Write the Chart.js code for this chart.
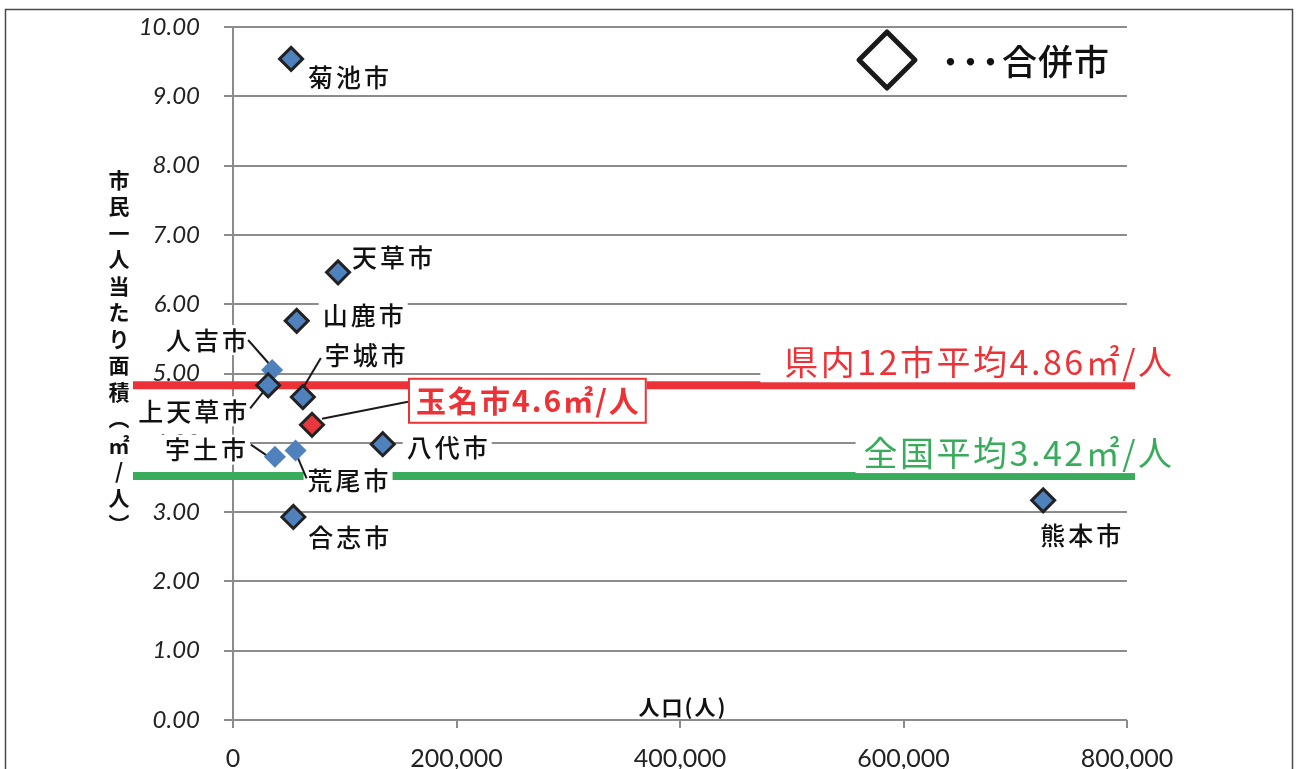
<!DOCTYPE html>
<html><head><meta charset="utf-8">
<script src="https://cdn.jsdelivr.net/npm/chart.js@4.4.1/dist/chart.umd.min.js"></script>
<style>html,body{margin:0;padding:0;background:#fff}#wrap{width:1298px;height:769px;position:relative}</style>
</head><body><div id="wrap"><canvas id="c"></canvas></div>
<script>
// ---- data ----
const cities = ['菊池市','天草市','山鹿市','人吉市','上天草市','宇城市','玉名市','八代市','宇土市','荒尾市','合志市','熊本市'];
const population = [52000,94000,57000,35000,31500,62500,70700,134000,37500,56000,54000,725000];
const areaPerPerson = [9.54,6.46,5.76,5.05,4.83,4.66,4.26,3.98,3.80,3.89,2.93,3.17];
const mergedCity = [true,true,true,false,true,true,true,true,false,false,true,true];
const highlightCity = '玉名市';
const highlightLabel = '玉名市4.6㎡/人';
const xTicks = [0,200000,400000,600000,800000];
const yTicks = [0,1,2,3,4,5,6,7,8,9,10];
const refLevels = [4.83, 3.52];
const refLabels = ['県内12市平均4.86㎡/人','全国平均3.42㎡/人'];
const xTitle = '人口(人)';
const yTitleChars = ['市','民','一','人','当','た','り','面','積','︵','㎡','/','人','︶'];
const legendDots = '･･･';
const legendLabel = '合併市';

// ---- layout / styles (kept separate from data) ----
const refColors = ['#EC3237','#39AC5C'];
const refPadL = [24, 8];
const labelLayout = {
  '菊池市': {dx:17, dy:19, align:'left'},
  '天草市': {dx:14, dy:-15, align:'left'},
  '山鹿市': {dx:26, dy:-5, align:'left'},
  '人吉市': {dx:-25, dy:-30, align:'right', lead:[-24,-30,-2,-5]},
  '上天草市': {dx:-21, dy:26, align:'right', lead:[-18,23,-3,4]},
  '宇城市': {dx:22, dy:-42, align:'left', lead:[18,-39,-1,-7]},
  '八代市': {dx:24, dy:3, align:'left'},
  '宇土市': {dx:-29, dy:-7, align:'right', lead:[-24,-12,-8,-1], padL:18},
  '荒尾市': {dx:12, dy:30, align:'left', lead:[0,2,11,28]},
  '合志市': {dx:15, dy:21, align:'left'},
  '熊本市': {dx:-3, dy:35, align:'left'}
};
const tamanaLayout = {dx:96, dy:-24, lead:[10,-6,96,-23]};
const JP = '"Noto Sans CJK JP","Noto Sans",sans-serif';
const NUM = 'Lato,"Open Sans",sans-serif';

function textW(ctx, text, spacing){ return ctx.measureText(text).width - spacing; }
function drawLabel(ctx, text, x, cy, align, font, color, spacing, bgH, padL){
  ctx.font = font; ctx.letterSpacing = spacing + 'px';
  const w = textW(ctx, text, spacing);
  const left = align === 'right' ? x - w : (align === 'center' ? x - w/2 : x);
  const pl = padL || 4;
  if (bgH) { ctx.fillStyle = '#fff'; ctx.fillRect(left - pl, cy - bgH/2, w + 4 + pl, bgH); }
  ctx.fillStyle = color; ctx.textAlign = 'left'; ctx.textBaseline = 'middle';
  ctx.fillText(text, left, cy);
  return {left, w};
}

const points = cities.map((c,i)=>({x:population[i], y:areaPerPerson[i], name:c, merged:mergedCity[i]}));
const mergedPts = points.filter(p=>p.merged);
const otherPts = points.filter(p=>!p.merged);

const overlay = {
  id:'overlay',
  beforeDatasetsDraw(chart){
    const ctx = chart.ctx, xs = chart.scales.x, ys = chart.scales.y, ca = chart.chartArea;
    ctx.save();
    refLevels.forEach((v,i)=>{
      const y = ys.getPixelForValue(v);
      ctx.strokeStyle = refColors[i]; ctx.lineWidth = 8;
      ctx.beginPath(); ctx.moveTo(ca.left - 100, y); ctx.lineTo(ca.right + 8, y); ctx.stroke();
      drawLabel(ctx, refLabels[i], ca.right + 45, y - 23, 'right', '34px ' + JP, refColors[i], 2.5, 40, refPadL[i]);
    });
    points.forEach(p=>{
      const L = labelLayout[p.name]; if (!L) return;
      const px = xs.getPixelForValue(p.x), py = ys.getPixelForValue(p.y);
      drawLabel(ctx, p.name, px + L.dx, py + L.dy, L.align, '500 25px ' + JP, '#111', 3, 30, L.padL);
    });
    ctx.letterSpacing = '0px';
    ctx.strokeStyle = '#1a1a1a'; ctx.lineWidth = 2;
    points.forEach(p=>{
      const L = p.name === highlightCity ? tamanaLayout : labelLayout[p.name];
      if (!L || !L.lead) return;
      const px = xs.getPixelForValue(p.x), py = ys.getPixelForValue(p.y);
      ctx.beginPath(); ctx.moveTo(px + L.lead[0], py + L.lead[1]); ctx.lineTo(px + L.lead[2], py + L.lead[3]); ctx.stroke();
    });
    const hp = points.find(p=>p.name === highlightCity);
    const hx = xs.getPixelForValue(hp.x) + tamanaLayout.dx, hy = ys.getPixelForValue(hp.y) + tamanaLayout.dy;
    ctx.font = 'bold 30px ' + JP; ctx.letterSpacing = '2px';
    const hw = textW(ctx, highlightLabel, 2);
    ctx.fillStyle = '#fff'; ctx.fillRect(hx, hy - 23, hw + 16, 46);
    ctx.strokeStyle = '#EC3237'; ctx.lineWidth = 2; ctx.strokeRect(hx + 1, hy - 22, hw + 14, 44);
    drawLabel(ctx, highlightLabel, hx + 8, hy, 'left', 'bold 30px ' + JP, '#EC3237', 2, 0);
    ctx.restore();
  },
  afterDraw(chart){
    const ctx = chart.ctx, ca = chart.chartArea;
    ctx.save();
    ctx.strokeStyle = '#4a4a4a'; ctx.lineWidth = 1.5;
    ctx.strokeRect(5.5, 9.5, 1287, 800);
    const lx = ca.right - 240, ly = ca.top + 33, r = 28;
    ctx.strokeStyle = '#1a1a1a'; ctx.lineWidth = 5; ctx.lineJoin = 'round';
    ctx.beginPath(); ctx.moveTo(lx - r, ly); ctx.lineTo(lx, ly - r); ctx.lineTo(lx + r, ly); ctx.lineTo(lx, ly + r); ctx.closePath(); ctx.stroke();
    const d = drawLabel(ctx, legendDots, lx + 54, ly + 2, 'left', 'bold 38px ' + JP, '#111', 1, 0);
    drawLabel(ctx, legendLabel, d.left + d.w + 2, ly + 2, 'left', '500 35px ' + JP, '#111', 1, 0);
    drawLabel(ctx, xTitle, ca.left + 449, ca.bottom - 13, 'center', 'bold 21px ' + JP, '#111', 2, 0);
    ctx.letterSpacing = '0px';
    ctx.font = 'bold 21px ' + JP; ctx.fillStyle = '#111'; ctx.textAlign = 'center'; ctx.textBaseline = 'middle';
    yTitleChars.forEach((ch,i)=>{ ctx.fillText(ch, 119, 180 + i * 26.5); });
    ctx.restore();
  }
};

new Chart(document.getElementById('c'), {
  type: 'scatter',
  data: { datasets: [
    { label:'merged', data: mergedPts, pointStyle:'rectRot', pointRadius:11.5, pointBorderWidth:3,
      pointBorderColor:'#222',
      pointBackgroundColor: mergedPts.map(p=> p.name === highlightCity ? '#E8383D' : '#4F81BD') },
    { label:'other', data: otherPts, pointStyle:'rectRot', pointRadius:11, pointBorderWidth:0,
      pointBackgroundColor:'#4F81BD' }
  ]},
  options: {
    responsive:true, maintainAspectRatio:false, animation:false, events:[],
    layout:{ padding:{ left:0, top:27, right:171, bottom:0 } },
    plugins:{ legend:{display:false}, tooltip:{enabled:false} },
    scales:{
      x:{ type:'linear', min:xTicks[0], max:xTicks[xTicks.length-1],
          afterBuildTicks(s){ s.ticks = xTicks.map(v=>({value:v})); },
          afterFit(s){ s.height = 49; },
          grid:{ drawOnChartArea:false, drawTicks:true, tickLength:8, color:'#8c8c8c', lineWidth:2 },
          border:{ display:false },
          ticks:{ padding:16, color:'#222', font:{ family:NUM, size:25 }, maxRotation:0,
                  callback:v=>v.toLocaleString('en-US') } },
      y:{ type:'linear', min:yTicks[0], max:yTicks[yTicks.length-1],
          afterBuildTicks(s){ s.ticks = yTicks.map(v=>({value:v})); },
          afterFit(s){ s.width = 233; s.paddingTop = 0; s.paddingBottom = 0; },
          grid:{ drawOnChartArea:true, drawTicks:true, tickLength:9, color:'#8c8c8c', lineWidth:2 },
          border:{ display:true, color:'#8c8c8c', width:2 },
          ticks:{ padding:24, color:'#222', font:{ family:NUM, size:24, style:'italic' },
                  callback:v=>v.toFixed(2) } }
    }
  },
  plugins:[overlay]
});
</script></body></html>
